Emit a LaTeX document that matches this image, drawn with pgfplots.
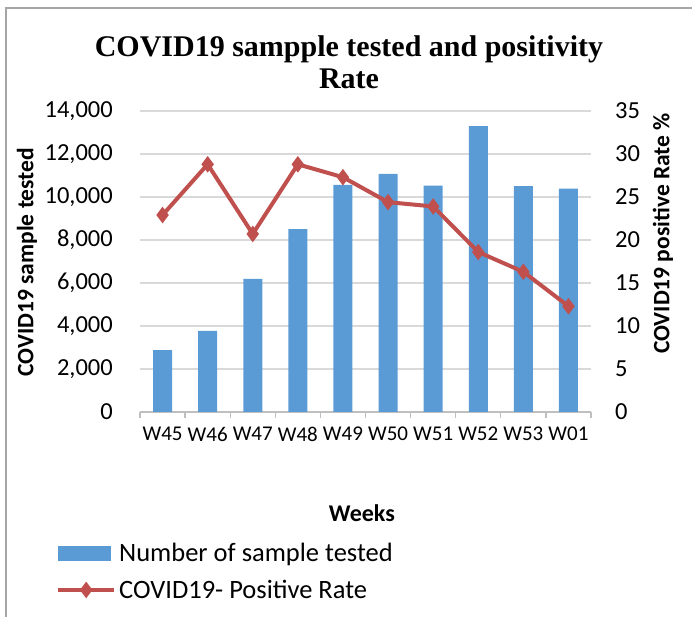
\documentclass[border=0pt]{standalone}
\usepackage{fontspec}
\setmainfont{Carlito}
\newfontfamily\titlefont{Liberation Serif}
\usepackage{pgfplots}
\pgfplotsset{compat=1.18}
\definecolor{barblue}{HTML}{5B9BD5}
\definecolor{linered}{HTML}{C0504D}
\definecolor{gridgray}{HTML}{D9D9D9}
\definecolor{axgray}{HTML}{BFBFBF}
\definecolor{framegray}{HTML}{A6A6A6}
\pgfplotsset{
  mylinelegend/.style={legend image code/.code={\draw[##1, mark repeat=2, mark phase=2] plot coordinates {(0pt,0pt) (28pt,0pt) (56pt,0pt)};}},
  mybarlegend/.style={legend image code/.code={\fill[barblue] (0pt,-7pt) rectangle (52pt,7pt);}},
}
\begin{document}
\begin{tikzpicture}
\useasboundingbox (0pt,0pt) rectangle (692pt,617pt);
\draw[framegray, line width=1.5pt] (6pt,0pt) -- (6pt,609pt) -- (692pt,609pt);
\node[anchor=base, inner sep=0pt, font=\titlefont\bfseries\fontsize{30}{34}\selectfont] at (349pt,560pt) {COVID19 sampple tested and positivity};
\node[anchor=base, inner sep=0pt, font=\titlefont\bfseries\fontsize{30}{34}\selectfont] at (349pt,528pt) {Rate};
\begin{axis}[
  at={(140pt,205pt)}, anchor=south west, scale only axis,
  width=451pt, height=301pt,
  xmin=-0.5, xmax=9.5, ymin=0, ymax=14000,
  xtick={0,...,9},
  xticklabels={W45,W46,W47,W48,W49,W50,W51,W52,W53,W01},
  minor xtick={-0.5,0.5,...,9.5},
  ytick={0,2000,...,14000},
  major tick length=0pt, minor tick length=6pt, tick align=outside,
  axis x line*=bottom, axis y line*=left,
  y axis line style={draw=none},
  x axis line style={draw=axgray, line width=1.3pt},
  minor tick style={draw=axgray, line width=1.3pt},
  ymajorgrids, major grid style={draw=gridgray, line width=1.3pt},
  scaled y ticks=false,
  yticklabel style={/pgf/number format/fixed, /pgf/number format/1000 sep={,}, font=\fontsize{24.5}{28}\selectfont},
  xticklabel style={font=\fontsize{21}{25}\selectfont},
  /pgf/number format/assume math mode=true,
  tick label style={inner sep=0pt},
  yticklabel shift=27pt, xticklabel shift=15pt,
  ylabel={COVID19 sample tested},
  every axis y label/.style={at={(axis description cs:-0.2506,0.498)}, anchor=center, rotate=90, font=\bfseries\fontsize{23.5}{27}\selectfont},
  xlabel={Weeks},
  every axis x label/.style={at={(axis description cs:0.492,-0.3355)}, anchor=center, font=\bfseries\fontsize{24}{28}\selectfont},
  ybar, bar width=19pt,
]
\addplot[fill=barblue, draw=none] coordinates {
(0,2880) (1,3770) (2,6190) (3,8500) (4,10560) (5,11070) (6,10530) (7,13300) (8,10500) (9,10390)};
\end{axis}
\begin{axis}[
  at={(140pt,205pt)}, anchor=south west, scale only axis,
  width=451pt, height=301pt,
  xmin=-0.5, xmax=9.5, ymin=0, ymax=35,
  ytick={0,5,...,35},
  axis y line*=right, axis x line=none,
  y axis line style={draw=none},
  major tick length=0pt,
  /pgf/number format/assume math mode=true,
  tick label style={font=\fontsize{24.5}{28}\selectfont, inner sep=0pt},
  yticklabel shift=24pt,
  ylabel={COVID19 positive Rate \%},
  every axis y label/.style={at={(axis description cs:1.1596,0.593)}, anchor=center, rotate=90, font=\bfseries\fontsize{23.5}{27}\selectfont},
  legend style={at={(axis description cs:-0.1863,-0.425)}, anchor=north west, draw=none, fill=none, inner sep=0pt,
    font=\fontsize{26.5}{31}\selectfont, row sep=11pt, cells={anchor=west}, nodes={inner sep=3pt}},
]
\addlegendimage{mybarlegend}
\addlegendentry{Number of sample tested}
\addplot[linered, line width=4pt, mark=diamond*, mark size=5pt, mylinelegend]
  coordinates {(0,22.9) (1,28.8) (2,20.7) (3,28.8) (4,27.3) (5,24.4) (6,23.9) (7,18.6) (8,16.3) (9,12.3)};
\addlegendentry{COVID19- Positive Rate}
\end{axis}
\end{tikzpicture}
\end{document}
